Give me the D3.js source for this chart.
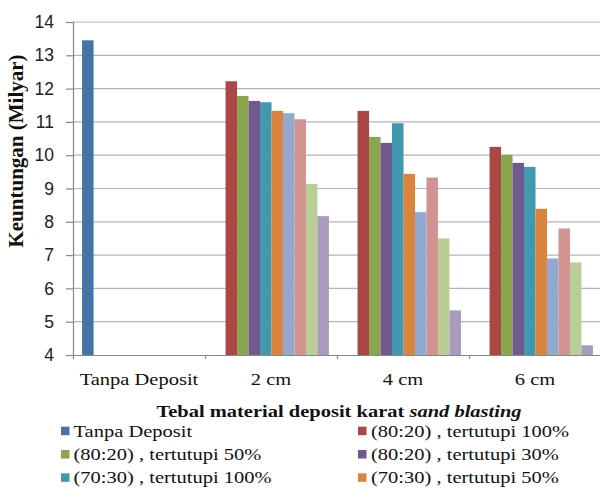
<!DOCTYPE html>
<html>
<head>
<meta charset="utf-8">
<script src="https://cdn.jsdelivr.net/npm/d3@7"></script>
<style>
  html, body { margin: 0; padding: 0; background: #fff; }
  svg { display: block; }
</style>
</head>
<body>
<svg id="chart" width="600" height="488"></svg>
<script>
// Categories on the x axis
const categories = ["Tanpa Deposit", "2 cm", "4 cm", "6 cm"];

// Series names (legend order)
const seriesNames = [
  "Tanpa Deposit",
  "(80:20) , tertutupi 100%",
  "(80:20) , tertutupi 50%",
  "(80:20) , tertutupi 30%",
  "(70:30) , tertutupi 100%",
  "(70:30) , tertutupi 50%",
  "(70:30) , tertutupi 30%",
  "(60:40) , tertutupi 100%",
  "(60:40) , tertutupi 50%",
  "(60:40) , tertutupi 30%"
];

// Keuntungan (Milyar) per series, one value per category
const tanpaDeposit   = [13.45, null, null, null];
const r8020_100      = [null, 12.22, 11.33, 10.25];
const r8020_50       = [null, 11.78, 10.55, 10.01];
const r8020_30       = [null, 11.63, 10.37, 9.77];
const r7030_100      = [null, 11.59, 10.96, 9.65];
const r7030_50       = [null, 11.33, 9.44, 8.39];
const r7030_30       = [null, 11.26, 8.29, 6.90];
const r6040_100      = [null, 11.08, 9.33, 7.80];
const r6040_50       = [null, 9.14, 7.50, 6.78];
const r6040_30       = [null, 8.17, 5.34, 4.29];

const seriesValues = [tanpaDeposit, r8020_100, r8020_50, r8020_30, r7030_100,
                      r7030_50, r7030_30, r6040_100, r6040_50, r6040_30];

// Y axis ticks
const yTicks = [4, 5, 6, 7, 8, 9, 10, 11, 12, 13, 14];

const colors = ["#4572A7", "#AA4643", "#89A54E", "#71588F", "#4198AF",
                "#DB843D", "#93A9CF", "#D19392", "#B9CD96", "#A99BBD"];

const serif = "'Liberation Serif', 'Times New Roman', Times, serif";
const sy = 0.83;          // vertical squash applied to the serif texts
const textSize = 20.5;

const svg = d3.select("#chart");
const plot = { left: 73, right: 601, top: 22, bottom: 355 };

const x0 = d3.scaleBand().domain(categories).range([plot.left, plot.right]).padding(0);
const bw = x0.bandwidth();
const groupPad = bw * 0.065;
const x1 = d3.scaleBand().domain(seriesNames).range([groupPad + 0.5, bw - groupPad + 0.5]).padding(0);
const y = d3.scaleLinear().domain([4, 14]).range([plot.bottom, plot.top]);
const color = d3.scaleOrdinal().domain(seriesNames).range(colors);

// Horizontal gridlines
svg.append("g")
  .selectAll("line")
  .data(yTicks.filter(t => t !== 4))
  .join("line")
  .attr("x1", plot.left).attr("x2", 600)
  .attr("y1", d => y(d)).attr("y2", d => y(d))
  .attr("stroke", "#b4b4b4").attr("stroke-width", 1.2);

// Bars
const rows = [];
seriesNames.forEach((name, i) => {
  seriesValues[i].forEach((v, j) => {
    if (v != null) rows.push({ series: name, category: categories[j], value: v });
  });
});

svg.append("g")
  .selectAll("rect")
  .data(rows)
  .join("rect")
  .attr("x", d => x0(d.category) + x1(d.series))
  .attr("width", x1.bandwidth())
  .attr("y", d => y(d.value))
  .attr("height", d => y(4) - y(d.value))
  .attr("fill", d => color(d.series));

// Y axis
const yAxis = svg.append("g")
  .attr("transform", `translate(${plot.left},0)`)
  .call(d3.axisLeft(y).tickValues(yTicks).tickFormat(d3.format("d")).tickSize(7).tickPadding(12));
yAxis.select(".domain").attr("stroke", "#888").attr("stroke-width", 1.2);
yAxis.selectAll(".tick line").attr("stroke", "#888").attr("stroke-width", 1.2);
yAxis.selectAll(".tick text")
  .attr("fill", "#222")
  .style("font-family", "'Liberation Sans', Arial, sans-serif")
  .style("font-size", "17.5px");

// X axis (category boundaries)
const xAxis = svg.append("g")
  .attr("transform", `translate(0,${plot.bottom})`)
  .call(d3.axisBottom(d3.scaleLinear().domain([0, categories.length]).range([plot.left, plot.right]))
    .ticks(categories.length).tickFormat("").tickSize(4).tickSizeOuter(0));
xAxis.select(".domain").attr("stroke", "#888").attr("stroke-width", 1.2);
xAxis.selectAll(".tick line").attr("stroke", "#888").attr("stroke-width", 1.2);

// Category labels, centred under each group
const xLabels = svg.append("g")
  .attr("transform", `translate(0,${plot.bottom})`)
  .call(d3.axisBottom(x0).tickSize(0));
xLabels.select(".domain").remove();
xLabels.selectAll(".tick text")
  .attr("dy", null)
  .attr("y", 30 / sy)
  .attr("transform", `scale(1,${sy})`)
  .attr("fill", "#111")
  .style("font-family", serif)
  .style("font-size", textSize + "px");

// X axis title
const xTitle = svg.append("text")
  .attr("transform", `translate(339,417) scale(1,${sy})`)
  .attr("text-anchor", "middle")
  .style("font-family", serif)
  .style("font-size", textSize + "px")
  .style("font-weight", "bold")
  .attr("fill", "#111");
xTitle.append("tspan").text("Tebal material deposit karat ");
xTitle.append("tspan").style("font-style", "italic").text("sand blasting");

// Y axis title
svg.append("text")
  .attr("transform", "translate(23,151) rotate(-90)")
  .attr("text-anchor", "middle")
  .style("font-family", serif)
  .style("font-size", "21px")
  .style("font-weight", "bold")
  .attr("fill", "#111")
  .text("Keuntungan (Milyar)");

// Legend, two columns; only the rows that fit inside the frame
const legendItems = seriesNames.slice(0, 6);
const colX = [61, 358];
const textX = [73.5, 371];
const rowY0 = 436.7, rowStep = 23.3;
const items = svg.append("g")
  .selectAll("g")
  .data(legendItems)
  .join("g")
  .attr("transform", (d, i) => `translate(0,${rowY0 + Math.floor(i / 2) * rowStep})`);
items.append("rect")
  .attr("x", (d, i) => colX[i % 2])
  .attr("y", -10)
  .attr("width", 8.5).attr("height", 8.5)
  .attr("fill", d => color(d));
items.append("text")
  .attr("transform", (d, i) => `translate(${textX[i % 2]},0) scale(1,${sy})`)
  .style("font-family", serif)
  .style("font-size", textSize + "px")
  .attr("fill", "#111")
  .text(d => d);
</script>
</body>
</html>
